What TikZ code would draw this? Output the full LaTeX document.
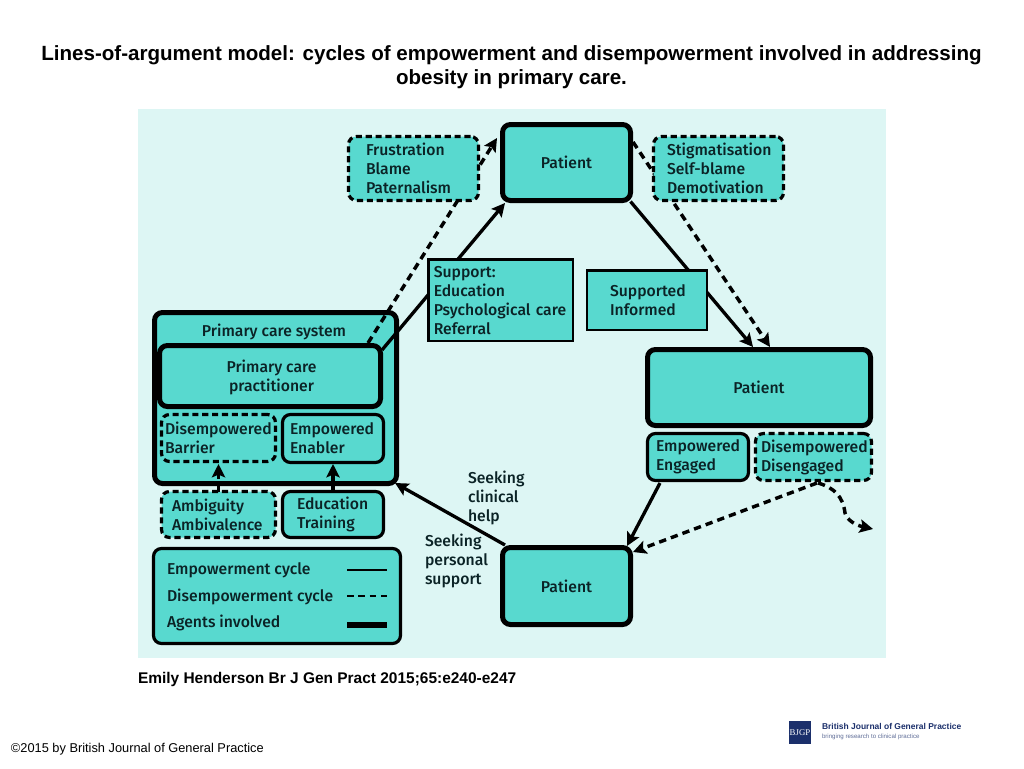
\documentclass[tikz,border=0pt]{standalone}
\usepackage{fontspec}
\setmainfont{Liberation Sans}
\newfontfamily\dinfont{Fira Sans Medium}
\usetikzlibrary{arrows.meta}
\hyphenpenalty=10000
\exhyphenpenalty=10000
\newdimen\pxu
\pxu=0.75pt
\definecolor{panel}{HTML}{DDF6F4}
\definecolor{teal}{HTML}{58D9CF}
\definecolor{ink}{HTML}{0B2326}
\definecolor{navy}{HTML}{1B2F6B}
\tikzset{
  x=0.75pt,y=-0.75pt,
  every node/.style={outer sep=0pt,inner sep=0pt,text=ink,font=\dinfont\fontsize{11.8}{14.25}\selectfont},
  basebox/.style={draw=black,fill=teal,rounded corners=6pt},
  agent/.style={basebox,line width=3.75pt},
  solidbox/.style={basebox,line width=2.4pt},
  dashbox/.style={basebox,line width=2.4pt,dash pattern=on 4.6pt off 2.8pt},
  squarebox/.style={draw=black,fill=teal,line width=2.1pt,align=left},
  txt/.style={align=left},
  link/.style={draw=black,line width=2.5pt,-{Stealth[length=10pt,width=10pt,inset=2pt]}},
  dashlink/.style={link,line width=2.6pt,dash pattern=on 5.5pt off 3.8pt},
  legendline/.style={draw=black,line width=1.8pt},
  legenddash/.style={draw=black,line width=1.8pt,dash pattern=on 5pt off 3.5pt},
  legendthick/.style={draw=black,line width=3.9pt},
}
\begin{document}
\begin{tikzpicture}
\useasboundingbox (0,0) rectangle (1024,768);
\fill[white] (0,0) rectangle (1024,768);
% title and captions
\node[text=black,align=center,font=\bfseries\fontsize{15.43}{18}\selectfont] (title) at (511.5,67) {Lines-of-argument model: cycles of empowerment and disempowerment involved in addressing\\obesity in primary care.};
\node[fill=panel,minimum width=748\pxu,minimum height=549\pxu] (panelbg) at (512,383.5) {};
\node[text=black,anchor=west,font=\bfseries\fontsize{11.6}{13}\selectfont] (cite) at (138,679) {Emily Henderson Br J Gen Pract 2015;65:e240-e247};
\node[text=black,anchor=west,font=\fontsize{9.6}{12}\selectfont] (copy) at (11,749) {©2015 by British Journal of General Practice};
\node[fill=navy,text=white,minimum width=22\pxu,minimum height=23\pxu,font=\fontsize{6.6}{7}\selectfont] (logo) at (800,732.5) {\fontspec{Liberation Serif}BJGP};
\node[anchor=west,text=navy,font=\bfseries\fontsize{6.35}{8}\selectfont] (journal) at (822,726.5) {British Journal of General Practice};
\node[anchor=west,text=navy!70,font=\fontsize{4.6}{7}\selectfont] (tagline) at (822,737) {bringing research to clinical practice};
% agents
\node[agent,minimum width=242\pxu,minimum height=171\pxu] (pcs) at (275.5,398) {};
\node (pcslabel) at (274,332) {Primary care system};
\node[agent,minimum width=221\pxu,minimum height=61\pxu] (pcp) at (270,376) {};
\node[align=center] (pcplabel) at (271.5,377) {Primary care\\practitioner};
\node[agent,minimum width=128\pxu,minimum height=76\pxu] (ptop) at (566.5,162.5) {Patient};
\node[agent,minimum width=223\pxu,minimum height=76\pxu] (pright) at (759,387.5) {Patient};
\node[agent,minimum width=128\pxu,minimum height=77\pxu] (pbot) at (566.5,586) {Patient};
\node[dashbox,txt,minimum width=114\pxu,minimum height=47\pxu,text width=107\pxu] (barrier) at (218.5,438) {Disempowered\\Barrier};
\node[solidbox,txt,minimum width=101\pxu,minimum height=48\pxu,text width=86\pxu] (enabler) at (333,438.5) {Empowered\\Enabler};
\node[dashbox,txt,minimum width=114\pxu,minimum height=46\pxu,text width=93\pxu] (ambig) at (218.5,514.5) {Ambiguity\\Ambivalence};
\node[solidbox,txt,minimum width=101\pxu,minimum height=46\pxu,text width=72\pxu] (educ) at (333,514.5) {Education\\Training};
\node[solidbox,txt,minimum width=101\pxu,minimum height=47\pxu,text width=84\pxu] (engaged) at (698,457) {Empowered\\Engaged};
\node[dashbox,txt,minimum width=116\pxu,minimum height=47\pxu,text width=105\pxu] (disen) at (813.5,457) {Disempowered\\Disengaged};
\coordinate (freeend) at (873,529);
% connectors
\draw[link] ([shift={(1.5,4.5)}]pcp.north east) -- ([shift={(2.5,2.5)}]ptop.south west);
\draw[dashlink] ([shift={(-12.5,-2.5)}]pcp.north east) -- ([shift={(-5.5,13.5)}]ptop.north west);
\draw[link] ([shift={(0,1)}]ptop.south east) -- ([shift={(-6,-2.5)}]pright.north);
\draw[dashlink] ([shift={(2.5,17.5)}]ptop.north east) -- ([shift={(11,-2.5)}]pright.north);
\draw[link] (educ.north) -- ([shift={(0,1.5)}]enabler.south);
\draw[dashlink] (ambig.north) -- ([shift={(0,2.5)}]barrier.south);
\draw[link] ([shift={(2.5,-2.5)}]pbot.north west) -- ([shift={(-1.5,-0.5)}]pcs.south east);
\draw[link] ([shift={(12.5,2.5)}]engaged.south west) -- ([shift={(-3.5,-1.5)}]pbot.north east);
\draw[dashlink] ([shift={(3.5,2.5)}]disen.south) -- ([shift={(2.5,4.5)}]pbot.north east);
\draw[dashlink] ([shift={(4.5,2.5)}]disen.south) .. controls (835,488) and (843,497) .. (845,513) .. controls (847,520) and (855,525) .. (freeend);
% boxes lying on the connectors
\node[dashbox,txt,minimum width=130\pxu,minimum height=64\pxu,text width=95\pxu] (frust) at (413.5,168.5) {Frustration\\Blame\\Paternalism};
\node[dashbox,txt,minimum width=130\pxu,minimum height=64\pxu,text width=103\pxu] (stig) at (718.5,168.5) {Stigmatisation\\Self-blame\\Demotivation};
\node[squarebox,minimum width=144.5\pxu,minimum height=81.5\pxu,text width=134\pxu] (support) at (500.75,300.25) {Support:\\Education\\Psychological care\\Referral};
\node[squarebox,minimum width=120\pxu,minimum height=59.5\pxu,text width=74\pxu] (informed) at (647,300.25) {Supported\\Informed};
% free labels
\node[txt,anchor=west] (clinical) at (468,498) {Seeking\\clinical\\help};
\node[txt,anchor=west] (personal) at (425,561) {Seeking\\personal\\support};
% legend
\node[solidbox,minimum width=247\pxu,minimum height=95\pxu] (legend) at (277,596) {};
\node[anchor=west] (l1) at (167,570) {Empowerment cycle};
\node[anchor=west] (l2) at (167,596.5) {Disempowerment cycle};
\node[anchor=west] (l3) at (167,623) {Agents involved};
\coordinate (a1) at (347,570); \coordinate (b1) at (387,570);
\coordinate (a2) at (347,596); \coordinate (b2) at (387,596);
\coordinate (a3) at (347,625); \coordinate (b3) at (387,625);
\draw[legendline] (a1) -- (b1);
\draw[legenddash] (a2) -- (b2);
\draw[legendthick] (a3) -- (b3);
\end{tikzpicture}
\end{document}
